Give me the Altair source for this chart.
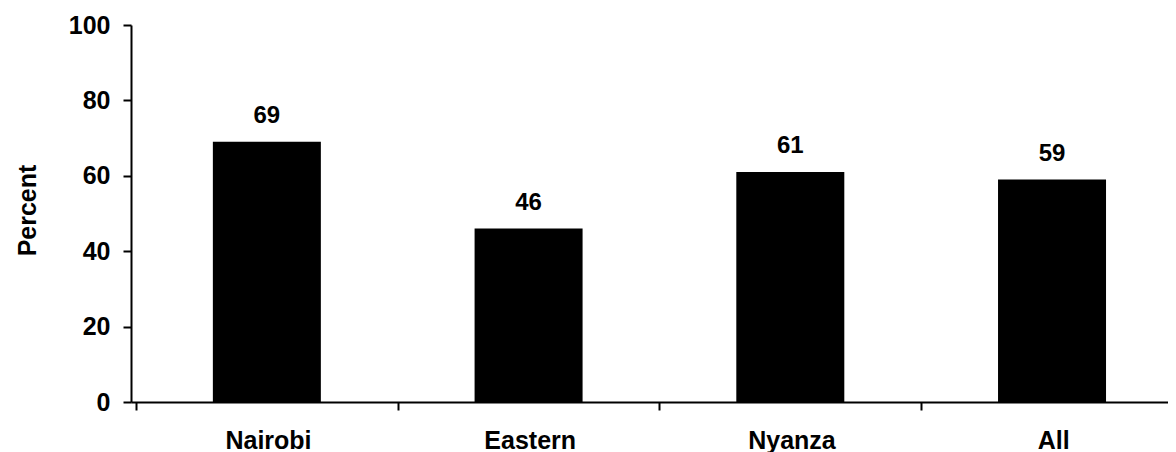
import altair as alt
import pandas as pd

categories = ["Nairobi", "Eastern", "Nyanza", "All"]
values = [69, 46, 61, 59]
y_ticks = [0, 20, 40, 60, 80, 100]

df = pd.DataFrame({
    "region": categories,
    "percent": values,
    "idx": list(range(len(categories))),
})
df["pos"] = df["idx"] + 0.5

label_expr = "[" + ",".join("'%s'" % c for c in categories) + "][datum.value]"

FONT = "Liberation Sans"

x_enc = alt.X(
    "pos:Q",
    scale=alt.Scale(domain=[0, 3.924], nice=False, zero=False),
    axis=alt.Axis(
        values=[0, 1, 2, 3],
        labelExpr=label_expr,
        labelOffset=132,
        labelFlush=False,
        labelOverlap=False,
        labelBound=False,
        title=None,
        grid=False,
        tickSize=8,
        tickWidth=2,
        tickColor="black",
        domainColor="black",
        domainWidth=2,
        labelFont=FONT,
        labelFontSize=25,
        labelFontWeight="bold",
        labelColor="black",
        labelBaseline="alphabetic",
        labelPadding=38,
    ),
)

y_enc = alt.Y(
    "percent:Q",
    scale=alt.Scale(domain=[0, 100], nice=False),
    axis=alt.Axis(
        values=y_ticks,
        title="Percent",
        titleFont=FONT,
        titleFontSize=25,
        titleFontWeight="bold",
        titleColor="black",
        titleX=-96,
        titleY=185,
        titleAngle=270,
        titleAlign="center",
        titleBaseline="alphabetic",
        grid=False,
        tickSize=8,
        tickWidth=2,
        tickColor="black",
        domainColor="black",
        domainWidth=2,
        labelFont=FONT,
        labelFontSize=25,
        labelFontWeight="bold",
        labelColor="black",
        labelPadding=13,
    ),
)

bars = alt.Chart(df).mark_bar(size=108, color="black").encode(x=x_enc, y=y_enc)

labels = alt.Chart(df).mark_text(
    font=FONT, fontSize=24, fontWeight="bold", color="black",
    baseline="alphabetic", dy=-19,
).encode(x="pos:Q", y="percent:Q", text="percent:Q")

chart = (
    alt.layer(bars, labels)
    .properties(
        width=1037,
        height=377,
        autosize=alt.AutoSizeParams(type="none"),
        padding={"left": 123, "top": 17, "right": 0, "bottom": 50},
        background="white",
    )
    .configure_view(stroke=None)
)

chart.save("out.html", embed_options={"renderer": "svg", "actions": False})
